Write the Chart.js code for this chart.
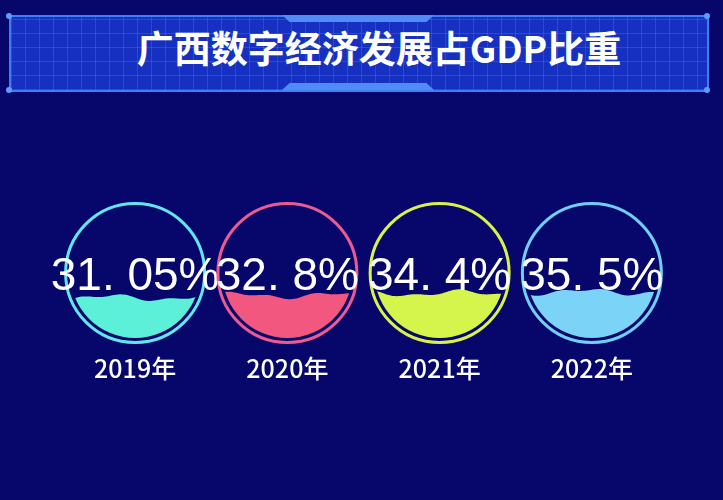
<!DOCTYPE html>
<html>
<head>
<meta charset="utf-8">
<script src="https://cdn.jsdelivr.net/npm/chart.js@4/dist/chart.umd.min.js"></script>
<style>
  html, body { margin: 0; padding: 0; background: #07076b; }
  #wrap { position: relative; width: 723px; height: 500px; overflow: hidden; }
  #wrap canvas { position: absolute; left: 0; top: 0; }
  .banner {
    position: absolute; left: 9px; top: 15px; width: 696px; height: 73px;
    border: 2px solid #3f7ef2;
    background-color: #1631c2;
    background-image:
      repeating-linear-gradient(90deg, rgba(90,140,255,0.28) 0 1px, transparent 1px 14px),
      repeating-linear-gradient(0deg, rgba(90,140,255,0.28) 0 1px, transparent 1px 14px);
  }
  .dot { position: absolute; width: 6px; height: 6px; border-radius: 50%; background: #5d9dff; }
  .tab { position: absolute; left: 282px; width: 152px; height: 7px; background: #4f8cf5; }
  .tab.top { top: 15px; clip-path: polygon(0 0, 100% 0, 95% 100%, 5% 100%); }
  .tab.bottom { top: 83px; clip-path: polygon(5% 0, 95% 0, 100% 100%, 0 100%); }
  .title {
    position: absolute; left: 0; top: 23px; width: 758px; text-align: center;
    font: bold 37px "Noto Sans CJK SC", sans-serif; color: #fff; line-height: 48px;
  }
</style>
</head>
<body>
<div id="wrap">
  <div class="banner"></div>
  <div class="tab top"></div>
  <div class="tab bottom"></div>
  <div class="dot" style="left:6px;top:13px"></div>
  <div class="dot" style="left:6px;top:87px"></div>
  <div class="dot" style="left:704px;top:13px"></div>
  <div class="dot" style="left:704px;top:87px"></div>
  <div class="title">广西数字经济发展占GDP比重</div>
  <canvas id="chart"></canvas>
</div>
<script>
const years = ['2019年', '2020年', '2021年', '2022年'];
const shares = [31.05, 32.8, 34.4, 35.5];
const ringColors = ['#62e6f2', '#ec5a92', '#d9f24a', '#6fcff8'];
const waterColors = ['#5cf0d8', '#f2577f', '#d6f54c', '#7bd3f7'];

// draws each bar as a liquid-filled ball
const liquidBalls = {
  id: 'liquidBalls',
  afterDatasetsDraw(chart) {
    const ctx = chart.ctx, y = chart.scales.y;
    const r = (y.getPixelForValue(0) - y.getPixelForValue(100)) / 2;
    const cy = y.getPixelForValue(50);
    chart.getDatasetMeta(0).data.forEach((bar, i) => {
      const cx = bar.x, level = bar.y;
      ctx.save();
      ctx.beginPath();
      ctx.arc(cx, cy, r + 4.5, 0, Math.PI * 2);
      ctx.lineWidth = 3;
      ctx.strokeStyle = ringColors[i];
      ctx.stroke();

      ctx.beginPath();
      ctx.arc(cx, cy, r, 0, Math.PI * 2);
      ctx.clip();
      ctx.beginPath();
      ctx.moveTo(cx - r, cy + r + 2);
      for (let px = -r; px <= r; px += 2) {
        ctx.lineTo(cx + px, level + 2.5 * Math.sin(px / 16 + i * 1.7) + 1.5 * Math.sin(px / 7 + i));
      }
      ctx.lineTo(cx + r, cy + r + 2);
      ctx.closePath();
      ctx.fillStyle = waterColors[i];
      ctx.fill();
      ctx.restore();

      ctx.save();
      ctx.fillStyle = '#ffffff';
      ctx.font = '46px "Liberation Sans", Arial, sans-serif';
      ctx.textAlign = 'center';
      ctx.textBaseline = 'alphabetic';
      ctx.fillText(String(shares[i]).replace('.', '. ') + '%', cx, cy + 17);
      ctx.restore();
    });
  }
};

new Chart(document.getElementById('chart'), {
  type: 'bar',
  data: {
    labels: years,
    datasets: [{
      data: shares,
      backgroundColor: 'rgba(0,0,0,0)',
      borderWidth: 0
    }]
  },
  options: {
    responsive: true,
    maintainAspectRatio: false,
    animation: false,
    layout: { padding: { top: 208, left: 59, right: 55, bottom: 112 } },
    plugins: { legend: { display: false }, tooltip: { enabled: false } },
    scales: {
      x: {
        grid: { display: false, drawTicks: false },
        border: { display: false },
        afterFit: (s) => { s.height = 50; },
        ticks: {
          color: '#ffffff',
          padding: 15,
          font: { family: '"Noto Sans CJK SC", sans-serif', size: 25, weight: '500' }
        }
      },
      y: { display: false, min: 0, max: 100 }
    }
  },
  plugins: [liquidBalls]
});
</script>
</body>
</html>
